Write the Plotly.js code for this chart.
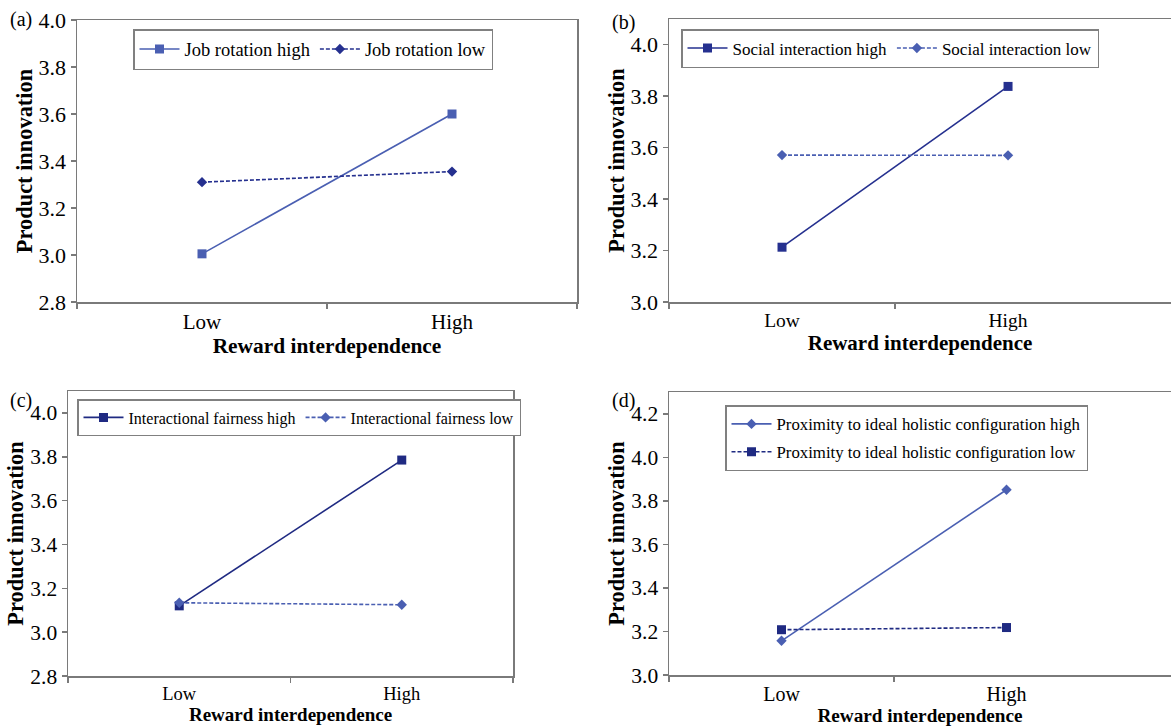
<!DOCTYPE html>
<html>
<head>
<meta charset="utf-8">
<script src="https://cdn.plot.ly/plotly-3.0.1.min.js"></script>
<style>html,body{margin:0;padding:0;background:#fff;}#chart{width:1171px;height:727px;}</style>
</head>
<body>
<div id="chart"></div>
<script>
// ---- data ----
const categories = ['Low', 'High'];
const xTitle = 'Reward interdependence';
const yTitle = 'Product innovation';

const aHighName = 'Job rotation high';
const aHigh = [3.005, 3.60];
const aLowName = 'Job rotation low';
const aLow = [3.31, 3.355];

const bHighName = 'Social interaction high';
const bHigh = [3.213, 3.838];
const bLowName = 'Social interaction low';
const bLow = [3.571, 3.570];

const cHighName = 'Interactional fairness high';
const cHigh = [3.12, 3.785];
const cLowName = 'Interactional fairness low';
const cLow = [3.134, 3.125];

const dHighName = 'Proximity to ideal holistic configuration high';
const dHigh = [3.157, 3.851];
const dLowName = 'Proximity to ideal holistic configuration low';
const dLow = [3.208, 3.218];

const yTicksA = [2.8, 3.0, 3.2, 3.4, 3.6, 3.8, 4.0];
const yTicksB = [3.0, 3.2, 3.4, 3.6, 3.8, 4.0];
const yTicksC = [2.8, 3.0, 3.2, 3.4, 3.6, 3.8, 4.0];
const yTicksD = [3.0, 3.2, 3.4, 3.6, 3.8, 4.0, 4.2];
const panelLabels = ['(a)', '(b)', '(c)', '(d)'];

// ---- styling ----
const W = 1171, H = 727;
const FONT = 'Liberation Serif, Times New Roman, serif';
const LIGHT = '#4a5fb2';
const NAVY = '#25308f';
const DNAVY = '#1f2a82';
const xi = categories.map((c, i) => i);

function tr(y, name, color, symbol, dash, legend, xa, ya, size, group) {
  return {
    x: xi, y: y, name: name, type: 'scatter', mode: 'lines+markers',
    line: {color: color, width: 1.6, dash: dash},
    marker: {color: color, symbol: symbol, size: size},
    legend: legend, legendgroup: group, xaxis: xa, yaxis: ya
  };
}
const DASH = '4px,2px';
const data = [
  tr(aHigh, aHighName, LIGHT, 'square', 'solid', 'legend', 'x', 'y', 9),
  tr(aLow, aLowName, NAVY, 'diamond', DASH, 'legend', 'x', 'y', 8),
  tr(bHigh, bHighName, NAVY, 'square', 'solid', 'legend2', 'x2', 'y2', 9),
  tr(bLow, bLowName, LIGHT, 'diamond', DASH, 'legend2', 'x2', 'y2', 8),
  tr(cHigh, cHighName, DNAVY, 'square', 'solid', 'legend3', 'x3', 'y3', 9),
  tr(cLow, cLowName, LIGHT, 'diamond', DASH, 'legend3', 'x3', 'y3', 8),
  tr(dHigh, dHighName, LIGHT, 'diamond', 'solid', 'legend4', 'x4', 'y4', 8, 'dh'),
  tr(dLow, dLowName, DNAVY, 'square', DASH, 'legend4', 'x4', 'y4', 9, 'dl')
];

function px(v) { return v / W; }
function py(v) { return 1 - v / H; }

function xaxis(anchor, l, r, range, minorVals, tickSize, titleSize) {
  return {
    anchor: anchor,
    domain: [px(l), px(r)], range: range, type: 'linear',
    tickmode: 'array', tickvals: xi, ticktext: categories, ticks: '',
    tickfont: {family: FONT, size: tickSize, color: '#000'},
    showline: true, mirror: true, linecolor: '#7a7a7a', linewidth: 1.5,
    showgrid: false, zeroline: false,
    minor: {tickmode: 'array', tickvals: minorVals, ticks: 'outside', ticklen: 5, tickcolor: '#7a7a7a', tickwidth: 1.5, showgrid: false},
    title: {text: xTitle, font: {family: FONT, size: titleSize, color: '#000', weight: 'bold'}, standoff: 2},
    fixedrange: true
  };
}
function yaxis(anchor, t, b, range, ticks, tickSize, titleSize) {
  return {
    anchor: anchor,
    domain: [py(b), py(t)], range: range,
    tickmode: 'array', tickvals: ticks, tickformat: '.1f', ticks: 'outside', ticklen: 5,
    tickcolor: '#7a7a7a', tickwidth: 1.5,
    tickfont: {family: FONT, size: tickSize, color: '#000'},
    showline: true, mirror: true, linecolor: '#7a7a7a', linewidth: 1.5,
    showgrid: false, zeroline: false,
    title: {text: yTitle, font: {family: FONT, size: titleSize, color: '#000', weight: 'bold'}, standoff: 0},
    fixedrange: true
  };
}
function legend(x, y, orientation, size, gap) {
  return {
    x: x, y: y, xanchor: 'left', yanchor: 'top', xref: 'paper', yref: 'paper',
    orientation: orientation, bgcolor: '#fff', bordercolor: '#808080', borderwidth: 1.5,
    font: {family: FONT, size: size, color: '#000'}, itemwidth: 40,
    tracegroupgap: gap || 0
  };
}

const layout = {
  width: W, height: H,
  margin: {l: 0, r: 0, t: 0, b: 0},
  paper_bgcolor: '#fff', plot_bgcolor: '#fff',
  showlegend: true,
  xaxis: xaxis('y', 77, 577, [-0.5, 1.5], [-0.5, 0.5, 1.5], 21, 21.4),
  yaxis: yaxis('x', 20, 302, [2.8, 4.0], yTicksA, 22, 22.4),
  xaxis2: xaxis('y2', 669, 1171, [-0.5, 1.721], [-0.5, 0.5], 19.5, 21),
  yaxis2: yaxis('x2', 19, 302, [3.0, 4.1], yTicksB, 22, 22.4),
  xaxis3: xaxis('y3', 68, 513, [-0.5, 1.5], [-0.5, 0.5, 1.5], 18.5, 19),
  yaxis3: yaxis('x3', 391, 676, [2.8, 4.1], yTicksC, 21.5, 22.4),
  xaxis4: xaxis('y4', 669, 1171, [-0.5, 1.731], [-0.5, 0.5], 20, 19.2),
  yaxis4: yaxis('x4', 392, 675, [3.0, 4.3], yTicksD, 21.5, 22.4),
  legend: legend(px(133), py(29), 'h', 18.5),
  legend2: legend(px(681), py(29), 'h', 17),
  legend3: legend(px(77), py(399), 'h', 16),
  legend4: legend(px(725), py(405), 'v', 16.8, 3),
  annotations: [
    {text: panelLabels[0], x: px(8), y: py(20), xanchor: 'left', yanchor: 'middle'},
    {text: panelLabels[1], x: px(610), y: py(22), xanchor: 'left', yanchor: 'middle'},
    {text: panelLabels[2], x: px(8), y: py(400), xanchor: 'left', yanchor: 'middle'},
    {text: panelLabels[3], x: px(610), y: py(400), xanchor: 'left', yanchor: 'middle'}
  ].map(a => Object.assign(a, {xref: 'paper', yref: 'paper', showarrow: false, font: {family: FONT, size: 20, color: '#000'}}))
};

Plotly.newPlot('chart', data, layout, {displayModeBar: false, staticPlot: true});
</script>
</body>
</html>
